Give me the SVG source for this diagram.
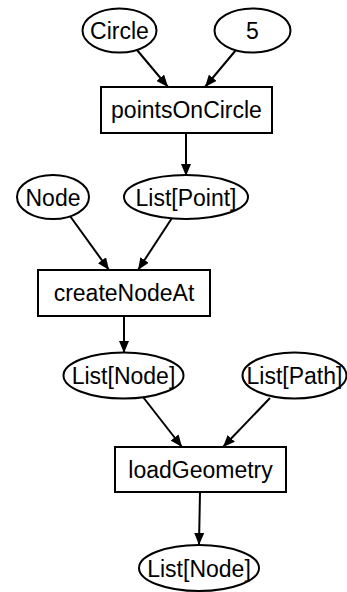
<svg xmlns="http://www.w3.org/2000/svg" width="347" height="592" viewBox="0 0 347 592">
<style>
.n ellipse,.n rect{fill:#fff;stroke:#000;stroke-width:2}
.n text{font-family:"Liberation Sans",Arial,sans-serif;font-size:23px;text-anchor:middle;fill:#000}
#edges path{fill:none;stroke:#000;stroke-width:2}
</style>
<defs>
<marker id="ah" markerUnits="userSpaceOnUse" markerWidth="14" markerHeight="10" refX="12" refY="5" orient="auto">
<path d="M0,0 L12,5 L0,10 Z" fill="#000"/>
</marker>
</defs>
<rect width="347" height="592" fill="#fff"/>
<g id="edges">
<path d="M137,50 L168,87" marker-end="url(#ah)"/>
<path d="M236,50 L205,87" marker-end="url(#ah)"/>
<path d="M186,133 L186,176" marker-end="url(#ah)"/>
<path d="M70,216 L109,270" marker-end="url(#ah)"/>
<path d="M172,218 L138,270" marker-end="url(#ah)"/>
<path d="M124,316 L124,353" marker-end="url(#ah)"/>
<path d="M143,397 L182,447" marker-end="url(#ah)"/>
<path d="M270,398 L223,447" marker-end="url(#ah)"/>
<path d="M200,492 L199,545" marker-end="url(#ah)"/>
</g>
<g id="circle" class="n"><ellipse cx="119.5" cy="30.5" rx="37" ry="22"/><text x="119.5" y="39">Circle</text></g>
<g id="five" class="n"><ellipse cx="252.5" cy="30.5" rx="38" ry="22"/><text x="252.5" y="39">5</text></g>
<g id="pointsOnCircle" class="n"><rect x="101" y="87" width="171" height="46"/><text x="186.5" y="118">pointsOnCircle</text></g>
<g id="node" class="n"><ellipse cx="53" cy="197" rx="36" ry="22"/><text x="53" y="205.5">Node</text></g>
<g id="listPoint" class="n"><ellipse cx="186" cy="197" rx="62" ry="22"/><text x="186" y="205.5">List[Point]</text></g>
<g id="createNodeAt" class="n"><rect x="38" y="270" width="172" height="46"/><text x="124" y="301">createNodeAt</text></g>
<g id="listNode1" class="n"><ellipse cx="123.5" cy="375.5" rx="60" ry="23"/><text x="123.5" y="384">List[Node]</text></g>
<g id="listPath" class="n"><ellipse cx="294.5" cy="375.5" rx="52" ry="23"/><text x="294.5" y="384">List[Path]</text></g>
<g id="loadGeometry" class="n"><rect x="115" y="447" width="171" height="45"/><text x="200.5" y="478">loadGeometry</text></g>
<g id="listNode2" class="n"><ellipse cx="199" cy="568" rx="60" ry="23"/><text x="199" y="576.5">List[Node]</text></g>
</svg>
